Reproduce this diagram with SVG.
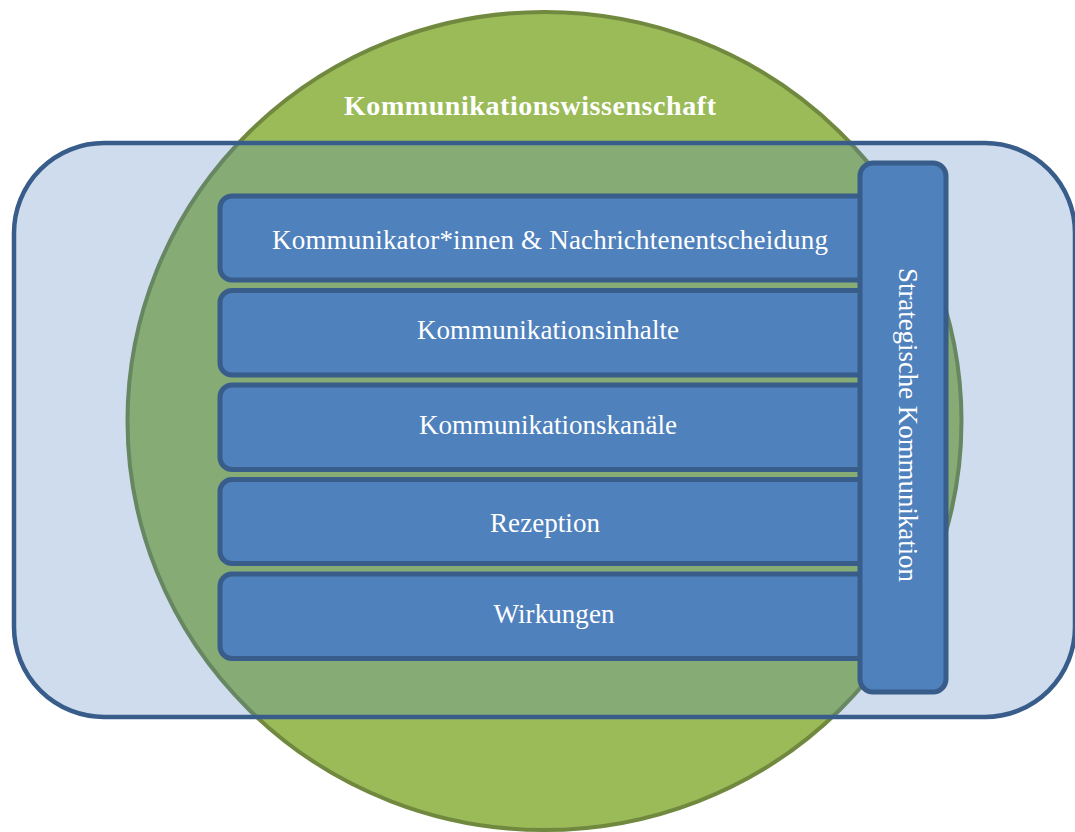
<svg xmlns="http://www.w3.org/2000/svg" width="1075" height="832" viewBox="0 0 1075 832">
  <style>
    .bar { fill: #4F81BD; stroke: #385D8A; stroke-width: 5; }
    .lbl { font-family: "Liberation Serif", "Times New Roman", serif; font-size: 27px; fill: #FFFFFF; text-anchor: middle; }
    .title { font-family: "Liberation Serif", "Times New Roman", serif; font-size: 28px; font-weight: bold; fill: #FFFFFF; text-anchor: middle; }
  </style>
  <rect x="0" y="0" width="1075" height="832" fill="#FFFFFF"/>
  <g id="kommunikationswissenschaft">
    <ellipse cx="544.5" cy="421" rx="417" ry="409" fill="#9BBB59" stroke="#71893F" stroke-width="4"/>
    <text class="title" x="530" y="115" textLength="372">Kommunikationswissenschaft</text>
  </g>
  <g id="rahmen">
    <rect x="14" y="143" width="1061" height="574" rx="90" ry="90" fill="#4F81BD" fill-opacity="0.28" stroke="#385D8A" stroke-width="4.5"/>
  </g>
  <g id="kommunikatoren">
    <rect class="bar" x="220" y="196" width="660" height="84" rx="12" ry="12"/>
    <text class="lbl" x="550" y="249" textLength="556">Kommunikator*innen &amp; Nachrichtenentscheidung</text>
  </g>
  <g id="inhalte">
    <rect class="bar" x="220" y="290.5" width="660" height="84.5" rx="12" ry="12"/>
    <text class="lbl" x="548" y="339" textLength="262">Kommunikationsinhalte</text>
  </g>
  <g id="kanaele">
    <rect class="bar" x="220" y="385" width="660" height="84.5" rx="12" ry="12"/>
    <text class="lbl" x="548" y="434" textLength="258">Kommunikationskanäle</text>
  </g>
  <g id="rezeption">
    <rect class="bar" x="220" y="479.5" width="660" height="84" rx="12" ry="12"/>
    <text class="lbl" x="545" y="532" textLength="110">Rezeption</text>
  </g>
  <g id="wirkungen">
    <rect class="bar" x="220" y="574" width="660" height="84.5" rx="12" ry="12"/>
    <text class="lbl" x="554" y="623" textLength="121">Wirkungen</text>
  </g>
  <g id="strategische-kommunikation">
    <rect class="bar" x="860" y="163" width="86" height="529" rx="13" ry="13"/>
    <text class="lbl" transform="translate(899,425) rotate(90)" x="0" y="0" textLength="314">Strategische Kommunikation</text>
  </g>
</svg>
